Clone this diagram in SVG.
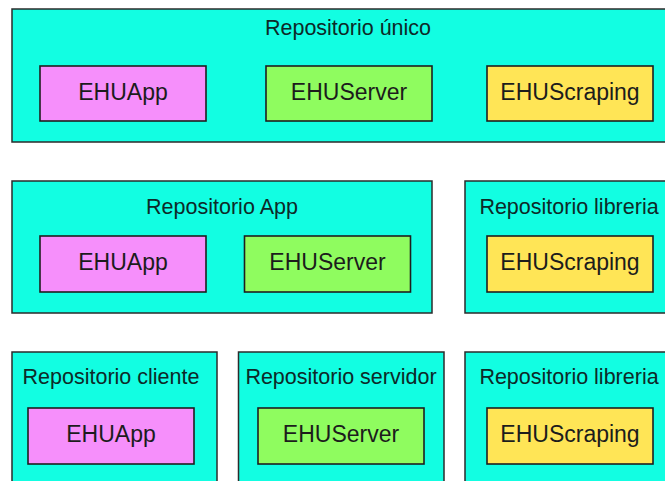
<svg xmlns="http://www.w3.org/2000/svg" width="665" height="481" viewBox="0 0 665 481">
  <style>
    .repo { fill: #12fee2; stroke: #2b2b2b; stroke-width: 1.5; }
    .box { stroke: #1e1e1e; stroke-width: 1.6; }
    .app { fill: #f68ffb; }
    .server { fill: #8ffc5f; }
    .scraping { fill: #ffe556; }
    .title { font-family: "Liberation Sans", Arial, Helvetica, sans-serif; font-size: 21.5px; fill: #0d2a28; text-anchor: middle; }
    .label { font-family: "Liberation Sans", Arial, Helvetica, sans-serif; font-size: 23px; fill: #1c1c1c; text-anchor: middle; }
  </style>
  <rect x="0" y="0" width="665" height="481" fill="#ffffff"/>

  <!-- Row 1: single repository -->
  <g id="repo-unico">
    <rect class="repo" x="12" y="9" width="672" height="133"/>
    <text class="title" x="348" y="35">Repositorio único</text>
  </g>
  <g id="r1-ehuapp">
    <rect class="box app" x="40" y="66" width="166" height="55"/>
    <text class="label" x="123" y="100">EHUApp</text>
  </g>
  <g id="r1-ehuserver">
    <rect class="box server" x="266" y="66" width="166" height="55"/>
    <text class="label" x="349" y="100">EHUServer</text>
  </g>
  <g id="r1-ehuscraping">
    <rect class="box scraping" x="487" y="66" width="166" height="55"/>
    <text class="label" x="570" y="100">EHUScraping</text>
  </g>

  <!-- Row 2: app repository + library repository -->
  <g id="repo-app">
    <rect class="repo" x="12" y="181" width="420" height="132"/>
    <text class="title" x="222" y="213.5">Repositorio App</text>
  </g>
  <g id="r2-ehuapp">
    <rect class="box app" x="40" y="236" width="166" height="56"/>
    <text class="label" x="123" y="270">EHUApp</text>
  </g>
  <g id="r2-ehuserver">
    <rect class="box server" x="244.5" y="236" width="166" height="56"/>
    <text class="label" x="327.5" y="270">EHUServer</text>
  </g>
  <g id="repo-libreria-2">
    <rect class="repo" x="465" y="181" width="215" height="132"/>
    <text class="title" x="569" y="214">Repositorio libreria</text>
  </g>
  <g id="r2-ehuscraping">
    <rect class="box scraping" x="487" y="236" width="166" height="56"/>
    <text class="label" x="570" y="270">EHUScraping</text>
  </g>

  <!-- Row 3: one repository per component -->
  <g id="repo-cliente">
    <rect class="repo" x="12" y="352" width="205" height="140"/>
    <text class="title" x="111" y="384">Repositorio cliente</text>
  </g>
  <g id="r3-ehuapp">
    <rect class="box app" x="28" y="408" width="166" height="56"/>
    <text class="label" x="111" y="442">EHUApp</text>
  </g>
  <g id="repo-servidor">
    <rect class="repo" x="238.5" y="352" width="205.5" height="140"/>
    <text class="title" x="341" y="384">Repositorio servidor</text>
  </g>
  <g id="r3-ehuserver">
    <rect class="box server" x="258" y="408" width="166" height="56"/>
    <text class="label" x="341" y="442">EHUServer</text>
  </g>
  <g id="repo-libreria-3">
    <rect class="repo" x="465" y="352" width="215" height="140"/>
    <text class="title" x="569" y="384">Repositorio libreria</text>
  </g>
  <g id="r3-ehuscraping">
    <rect class="box scraping" x="487" y="408" width="166" height="56"/>
    <text class="label" x="570" y="442">EHUScraping</text>
  </g>

  <g id="connectors"/>
</svg>
